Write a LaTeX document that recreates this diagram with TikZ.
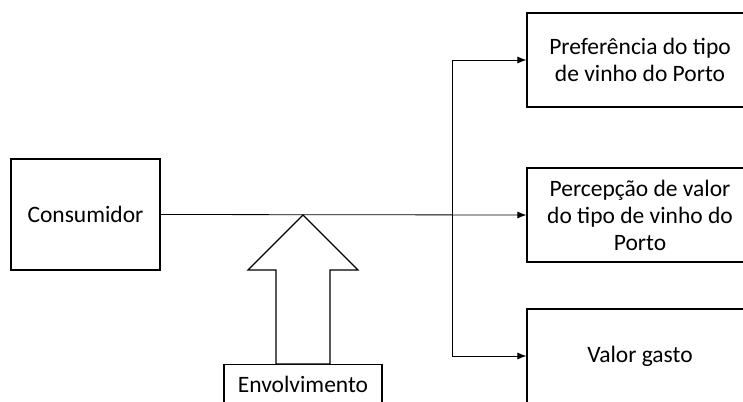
\documentclass[tikz,border=0pt]{standalone}
\usepackage{fontspec}
\setmainfont{Carlito}
\usepackage{tikz}
\usetikzlibrary{arrows.meta}

\begin{document}
\begin{tikzpicture}[x=1pt,y=-1pt,
	box/.style={draw,line width=1.2pt,inner sep=0pt,align=center,
		font=\fontsize{23.5}{27}\selectfont},
	link/.style={line width=0.8pt,-{Latex[length=9pt,width=7pt]}}]
	\useasboundingbox (0,0) rectangle (743,401);
	\clip (0,0) rectangle (743,401);
	% left side
	\node[box,minimum width=149pt,minimum height=111pt] (cons) at (85.5,214.5) {Consumidor};
	\node[box,minimum width=158pt,minimum height=40pt,anchor=north] (envol) at (303,364) {Envolvimento};
	% right side
	\node[box,minimum width=226pt,minimum height=94pt] (pref) at (640,60) {Prefer\^encia do tipo\\de vinho do Porto};
	\node[box,minimum width=226pt,minimum height=94pt] (perc) at (640,215) {Percep\c{c}\~ao de valor\\do tipo de vinho do\\Porto};
	\node[box,minimum width=226pt,minimum height=94pt] (gasto) at (640,356) {Valor gasto};
	% connectors
	\coordinate (split) at (452,215);
	\draw[link] (cons.east)--(perc.west);
	\draw[link] (split) |- (pref.west);
	\draw[link] (split) |- (gasto.west);
	% block arrow
	\coordinate (tip) at (303,215);
	\draw[line width=1.2pt,fill=white] (tip)--(358,270)--(330,270)--(330,364)--(276,364)--(276,270)--(248,270)--cycle;
\end{tikzpicture}
\end{document}
